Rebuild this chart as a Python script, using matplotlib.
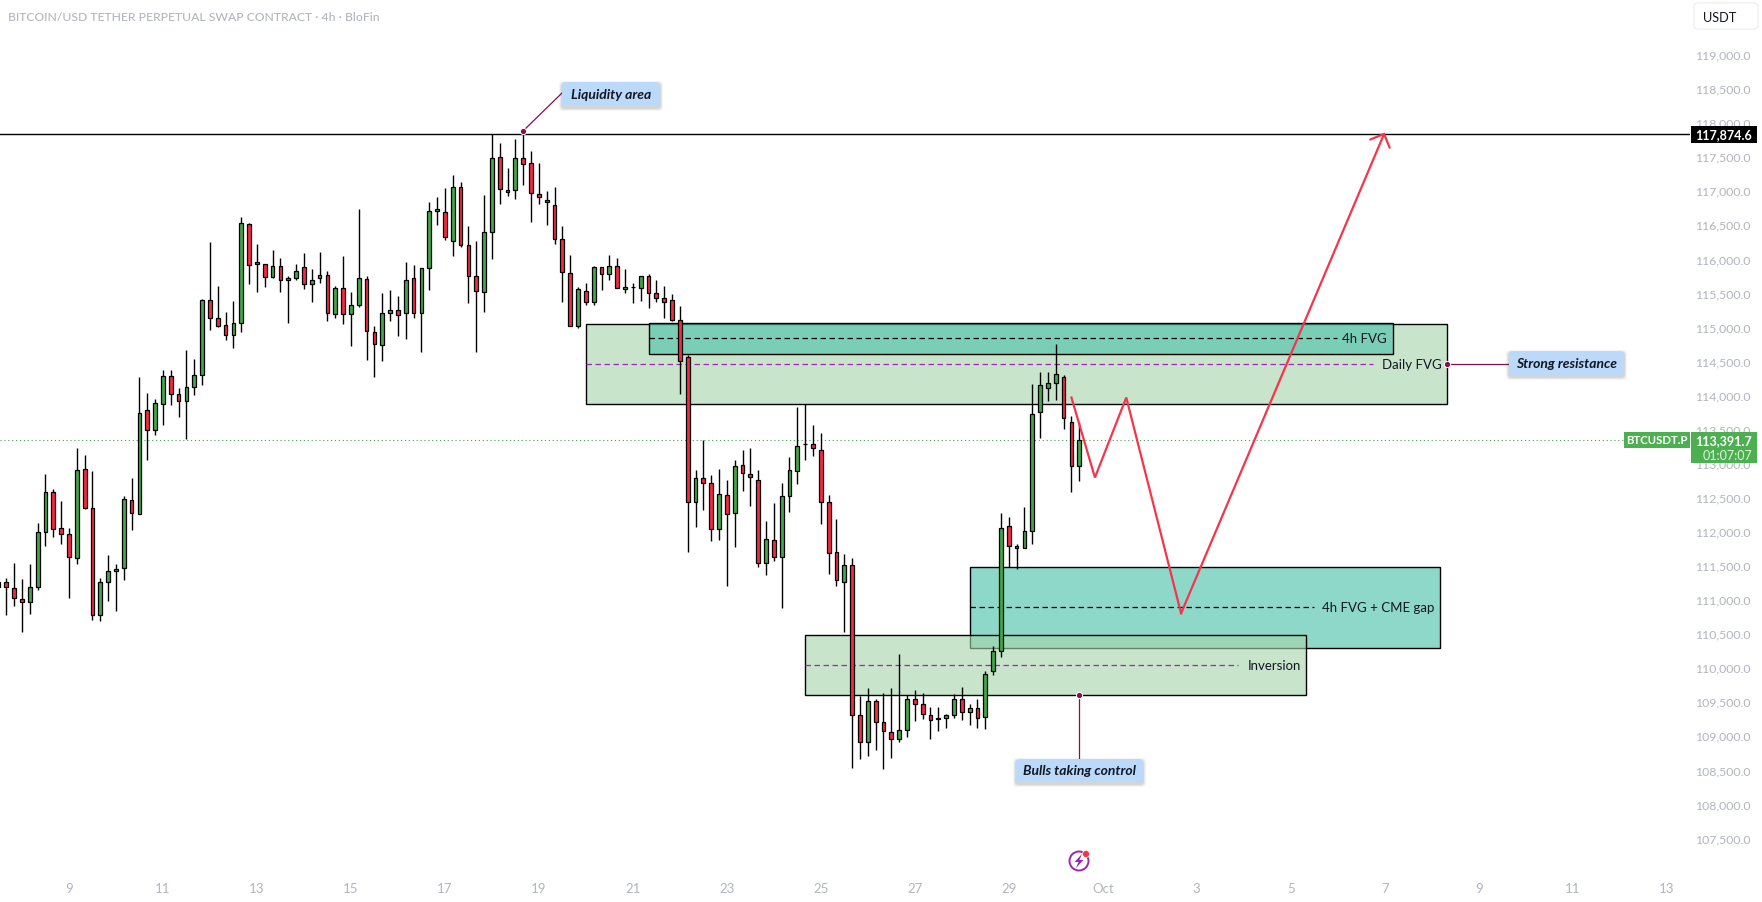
# -*- coding: utf-8 -*-
"""
BTCUSDT perpetual 4h candlestick chart with FVG zones and a projected path.
"""

import matplotlib
matplotlib.use("Agg")
import matplotlib.pyplot as plt
from matplotlib.colors import to_rgba
from matplotlib.patches import Circle, FancyBboxPatch, Polygon, Rectangle
from matplotlib.transforms import ScaledTranslation

plt.rcParams['font.family'] = ['Lato', 'DejaVu Sans']

opens = [111230, 111299, 111211, 111050, 111006, 111226, 112033, 112620, 112092, 112004,
         111651, 112958, 112385, 110810, 111299, 111470, 111505, 112503, 112297, 113824,
         113530, 113912, 114323, 114058, 113951, 114161, 114337, 115438, 115174, 115071,
         114924, 115100, 116553, 116000, 115966, 115775, 115937, 115731, 115761, 115922,
         115673, 115761, 115805, 115232, 115614, 115232, 115365, 115746, 114968, 114777,
         115247, 115291, 115247, 115761, 115247, 115908, 116744, 116729, 116304, 117096,
         116245, 115790, 115555, 116436, 117537, 117023, 117052, 117522, 117449, 116994,
         116905, 116832, 116333, 115834, 115056, 115570, 115408, 115922, 115819, 115937,
         115599, 115634, 115614, 115790, 115541, 115467, 115438, 115144, 114601, 112473,
         112826, 112752, 112077, 112576, 112312, 113016, 112884, 112796, 111578, 111916,
         111666, 112561, 112928, 113330, 113325, 113237, 112473, 111739, 111299, 111549,
         109347, 108951, 109553, 109245, 109098, 108995, 109127, 109582, 109509, 109348,
         109303, 109303, 109348, 109582, 109391, 109450, 109318, 109993, 110287, 112121,
         111828, 111798, 112048, 113794, 114146, 114220, 114308, 113648, 113002]
closes = [111300, 111226, 111064, 111001, 111226, 112033, 112620, 112077, 112013, 111666,
          112943, 112385, 110810, 111299, 111461, 111490, 112517, 112307, 113780, 113530,
          113926, 114323, 114058, 113951, 114161, 114337, 115438, 115174, 115056, 114924,
          115100, 116568, 115952, 115966, 115775, 115937, 115731, 115761, 115863, 115673,
          115731, 115805, 115247, 115614, 115232, 115365, 115761, 114983, 114792, 115247,
          115291, 115218, 115731, 115247, 115908, 116744, 116773, 116362, 117096, 116245,
          115790, 115570, 116436, 117522, 117067, 117052, 117522, 117434, 117008, 116950,
          116876, 116333, 115849, 115056, 115599, 115408, 115922, 115819, 115937, 115614,
          115629, 115624, 115790, 115541, 115467, 115408, 115144, 114543, 112473, 112826,
          112752, 112077, 112591, 112297, 113002, 112899, 112840, 111578, 111930, 111666,
          112561, 112943, 113295, 113320, 113266, 112473, 111725, 111329, 111549, 109347,
          108951, 109553, 109245, 109113, 108995, 109127, 109582, 109509, 109362, 109274,
          109284, 109348, 109582, 109391, 109450, 109303, 109949, 110287, 112092, 111828,
          111798, 112048, 113765, 114191, 114220, 114352, 113706, 113002, 113391.7]
highs = [111350, 111358, 111578, 111343, 111563, 112165, 112884, 112669, 112488, 112092,
         113266, 113163, 112928, 111358, 111695, 111563, 112561, 112825, 114308, 114073,
         113990, 114411, 114411, 114146, 114704, 114572, 115453, 116289, 115643, 115262,
         115423, 116656, 116568, 116260, 115966, 116172, 116054, 115790, 115971, 116128,
         115893, 116142, 115863, 115643, 116084, 115555, 116773, 115790, 115056, 115541,
         115585, 115497, 115996, 115952, 115908, 116876, 116950, 117082, 117272, 117170,
         116524, 116304, 116979, 117874, 117742, 117375, 117801, 117880, 117625, 117449,
         117038, 117096, 116524, 116098, 115629, 115687, 115937, 115922, 116098, 116054,
         115893, 115687, 115790, 115819, 115731, 115643, 115526, 115350, 114631, 112943,
         113383, 112870, 112958, 112796, 113090, 113237, 113266, 112943, 112195, 112459,
         112752, 113134, 113868, 113912, 113603, 113486, 112576, 112224, 111710, 111652,
         109631, 109744, 109582, 109670, 109744, 110248, 109641, 109714, 109670, 109465,
         109465, 109362, 109656, 109758, 109509, 109582, 109993, 110360, 112312, 112253,
         111857, 112400, 114205, 114381, 114381, 114792, 114337, 113736, 113648]
lows = [111150, 110810, 110942, 110575, 110839, 111177, 111837, 111955, 111852, 111074,
        111573, 112366, 110737, 110722, 111030, 110883, 111324, 112072, 112297, 113095,
        113461, 113608, 113902, 113716, 113398, 114039, 114195, 115007, 115037, 114846,
        114729, 114978, 115668, 115565, 115624, 115756, 115565, 115110, 115741, 115609,
        115418, 115697, 115125, 115169, 115081, 114758, 115335, 114567, 114303, 114538,
        115125, 114905, 114861, 115183, 114670, 115580, 116543, 116314, 116093, 116211,
        115389, 114670, 115257, 116049, 116842, 116974, 116930, 117135, 116592, 116842,
        116548, 116255, 115418, 115056, 115027, 115364, 115360, 115590, 115741, 115614,
        115550, 115389, 115433, 115316, 115418, 115169, 115125, 114068, 111749, 112102,
        112351, 111896, 111925, 111250, 111808, 112630, 112424, 111515, 111397, 111617,
        110927, 112336, 112747, 113085, 113144, 112160, 111412, 111236, 110561, 108565,
        108697, 108751, 108839, 108550, 108712, 108946, 109020, 109255, 109284, 108990,
        109122, 109166, 109299, 109269, 109196, 109166, 109142, 109935, 110208, 111519,
        111490, 111798, 111852, 113413, 113951, 113980, 113545, 112620, 112782]

# rectangles: bar index left/right, price bottom/top/middle, text
zone_left = [75, 83, 124, 103]
zone_right = [185, 178, 184, 167]
zone_bottom = [113912, 114645, 110331, 109641]
zone_top = [115086, 115100, 111519, 110521]
zone_mid = [114499, 114880, 110932, 110081]
zone_line_end = [175.5, 170.9, 168.0, 158.3]
zone_names = ['Daily FVG', '4h FVG', '4h FVG + CME gap', 'Inversion']

path_x = [137, 140, 144, 151, 177]
path_y = [114009, 112835, 114009, 110842, 117899]

resistance_level = 117874.6
last_price = 113391.7
countdown = '01:07:07'

price_ticks = list(range(107500, 119500, 500))
day_ticks = [9, 21, 33, 45, 57, 69, 81, 93, 105, 117, 129, 141, 153, 165, 177, 189, 201, 213]
day_labels = ['9', '11', '13', '15', '17', '19', '21', '23', '25', '27', '29',
              'Oct', '3', '5', '7', '9', '11', '13']

TICK_GREY = '#b2b5be'
INK = '#131722'
GREEN = '#43a847'
RED = '#f72a41'
TAG_GREEN = '#4caf50'
NOTE_BLUE = '#bbd9fb'
NOTE_LINE = '#880e4f'
PURPLE = '#a224bd'
PATH_RED = '#f4354c'
LIGHT_GREEN = to_rgba('#a6d6aa', 0.61)
TEAL = to_rgba('#51c3ac', 0.65)

W, H = 1762, 903
PANE_W, PANE_H = 1690, 875

fig = plt.figure(figsize=(W / 100, H / 100), dpi=100)
ax = fig.add_axes([0, (H - PANE_H) / H, PANE_W / W, PANE_H / H])
ax.set_xlim(0.195, 215.98)
ax.set_ylim(107016, 119858)
for spine in ax.spines.values():
    spine.set_visible(False)

# zones, green ones and teal ones stacked the way they overlap
zone_faces = [LIGHT_GREEN, TEAL, TEAL, LIGHT_GREEN]
zone_orders = [1.0, 1.2, 1.4, 1.6]
mid_colors = [PURPLE, 'black', 'black', PURPLE]
for i in range(4):
    ax.add_patch(Rectangle((zone_left[i], zone_bottom[i]), zone_right[i] - zone_left[i],
                           zone_top[i] - zone_bottom[i], facecolor=zone_faces[i],
                           edgecolor='black', linewidth=1.0, zorder=zone_orders[i]))
    ax.plot([zone_left[i], zone_line_end[i]], [zone_mid[i], zone_mid[i]], color=mid_colors[i],
            linewidth=0.9, linestyle=(0, (4.4, 2.8)), zorder=zone_orders[i] + 0.05)
    ax.annotate(zone_names[i], xy=(zone_right[i], zone_mid[i]), xytext=(-4, 0),
                textcoords='offset points', ha='right', va='center', fontsize=9.5,
                color=INK, zorder=3)

# horizontal levels
ax.axhline(resistance_level, color='black', linewidth=1.0, zorder=3)
ax.axhline(last_price, color='#4a9d55', linewidth=0.8, linestyle=(0, (1, 2.5)), zorder=2.5)

# candles
idx = list(range(len(opens)))
colors = [GREEN if c >= o else RED for o, c in zip(opens, closes)]
ax.vlines(idx, lows, highs, color='black', linewidth=1.0, zorder=4)
ax.bar(idx, [abs(c - o) for o, c in zip(opens, closes)], bottom=[min(o, c) for o, c in zip(opens, closes)],
       width=0.48, color=colors, edgecolor='black', linewidth=0.9, zorder=5)

# projected path with an open arrow head at the end
ax.plot(path_x[:-1], path_y[:-1], color=PATH_RED, linewidth=1.6, zorder=6, solid_joinstyle='miter')
ax.annotate('', xy=(path_x[-1], path_y[-1]), xytext=(path_x[-2], path_y[-2]), zorder=6,
            arrowprops=dict(arrowstyle='->,head_length=0.76,head_width=0.76', color=PATH_RED,
                            linewidth=1.6, shrinkA=0, shrinkB=0, mutation_scale=10))

# axes labels on the price scale and the time scale
ax.yaxis.tick_right()
ax.set_yticks(price_ticks)
ax.set_yticklabels([f'{p:,.1f}' for p in price_ticks], ha='right', va='center', color=TICK_GREY, fontsize=8.8)
ax.tick_params(axis='y', length=0, pad=43.5)
# price labels sit slightly above their levels
nudge = ScaledTranslation(0, 2.4 / 100, fig.dpi_scale_trans)
for label in ax.get_yticklabels():
    label.set_transform(label.get_transform() + nudge)
ax.set_xticks(day_ticks)
ax.set_xticklabels(day_labels, color=TICK_GREY, fontsize=9.5)
ax.tick_params(axis='x', length=0, pad=5.7)


def price_px(price):
    return H - ax.transData.transform((0, price))[1]


def index_px(i):
    return ax.transData.transform((i, 0))[0]


# overlay in pixel units for the interface parts
ui = fig.add_axes([0, 0, 1, 1], facecolor='none')
ui.set_xlim(0, W)
ui.set_ylim(H, 0)
ui.axis('off')


def note(x0, y0, x1, y1, text):
    for grow, alpha in ((3, 0.05), (2, 0.07), (1, 0.09)):
        ui.add_patch(FancyBboxPatch((x0, y0 + 2), x1 - x0, y1 - y0, boxstyle=f'round,pad={grow},rounding_size=4',
                                    facecolor='#2a2e39', edgecolor='none', alpha=alpha, zorder=7))
    ui.add_patch(FancyBboxPatch((x0, y0), x1 - x0, y1 - y0, boxstyle='round,pad=0,rounding_size=4',
                                facecolor=NOTE_BLUE, edgecolor='none', zorder=8))
    ui.text((x0 + x1) / 2, (y0 + y1) / 2, text, ha='center', va='center', fontsize=10,
            style='italic', weight='bold', color=INK, zorder=9)


def callout(x0, y0, x1, y1):
    ui.plot([x0, x1], [y0, y1], color=NOTE_LINE, linewidth=0.9, zorder=6)
    ui.plot([x0], [y0], marker='o', markersize=4.5, markerfacecolor=NOTE_LINE,
            markeredgecolor='white', markeredgewidth=0.7, zorder=6.5)


callout(index_px(67), price_px(117923), 562, 94)
note(562, 83, 660, 107, 'Liquidity area')
callout(index_px(185), price_px(114499), 1509, price_px(114499))
note(1509, 352, 1624, 376, 'Strong resistance')
callout(index_px(138), price_px(109641), index_px(138), 760)
note(1016, 760, 1143, 783, 'Bulls taking control')

# title and currency button
ui.text(8, 17.5, 'BITCOIN/USD TETHER PERPETUAL SWAP CONTRACT · 4h · BloFin', ha='left', va='center',
        fontsize=8.7, weight='medium', color=TICK_GREY)
ui.add_patch(FancyBboxPatch((1694, 4), 64, 26, boxstyle='round,pad=0,rounding_size=4',
                            facecolor='white', edgecolor='#eeeef1', linewidth=0.9, zorder=2))
ui.text(1703, 18, 'USDT', ha='left', va='center', fontsize=9.2, color=INK, zorder=3)

# price tags
y_res = price_px(resistance_level)
ui.add_patch(Rectangle((1691, y_res - 8.5), 66, 17, facecolor='black', edgecolor='none', zorder=3))
ui.text(1752, y_res, f'{resistance_level:,.1f}', ha='right', va='center', fontsize=9.0,
        weight='bold', color='white', zorder=4)

y_last = price_px(last_price)
ui.add_patch(Rectangle((1624, y_last - 8), 66, 16.5, facecolor=TAG_GREEN, edgecolor='none', zorder=3))
ui.text(1657, y_last, 'BTCUSDT.P', ha='center', va='center', fontsize=8.2, weight='bold',
        color='white', zorder=4)
ui.add_patch(Rectangle((1691, y_last - 8), 66, 31, facecolor=TAG_GREEN, edgecolor='none', zorder=3))
ui.text(1752, y_last, f'{last_price:,.1f}', ha='right', va='center', fontsize=9.0, weight='bold',
        color='white', zorder=4)
ui.text(1752, y_last + 15, countdown, ha='right', va='center', fontsize=9.0, color='#e4f3e5', zorder=4)

# lightning badge under the chart
ui.add_patch(Circle((1079, 862), 9.5, facecolor='white', edgecolor='#9c27b0', linewidth=1.4, zorder=3))
ui.add_patch(Polygon([(1082, 855), (1074.5, 863), (1078.5, 863), (1076, 869), (1083.5, 861), (1079.5, 861)],
                     closed=True, facecolor='#9c27b0', edgecolor='none', zorder=4))
ui.add_patch(Circle((1086, 855), 3.5, facecolor='#f23645', edgecolor='white', linewidth=0.5, zorder=5))

fig.savefig('out.png', dpi=100)
plt.close(fig)
